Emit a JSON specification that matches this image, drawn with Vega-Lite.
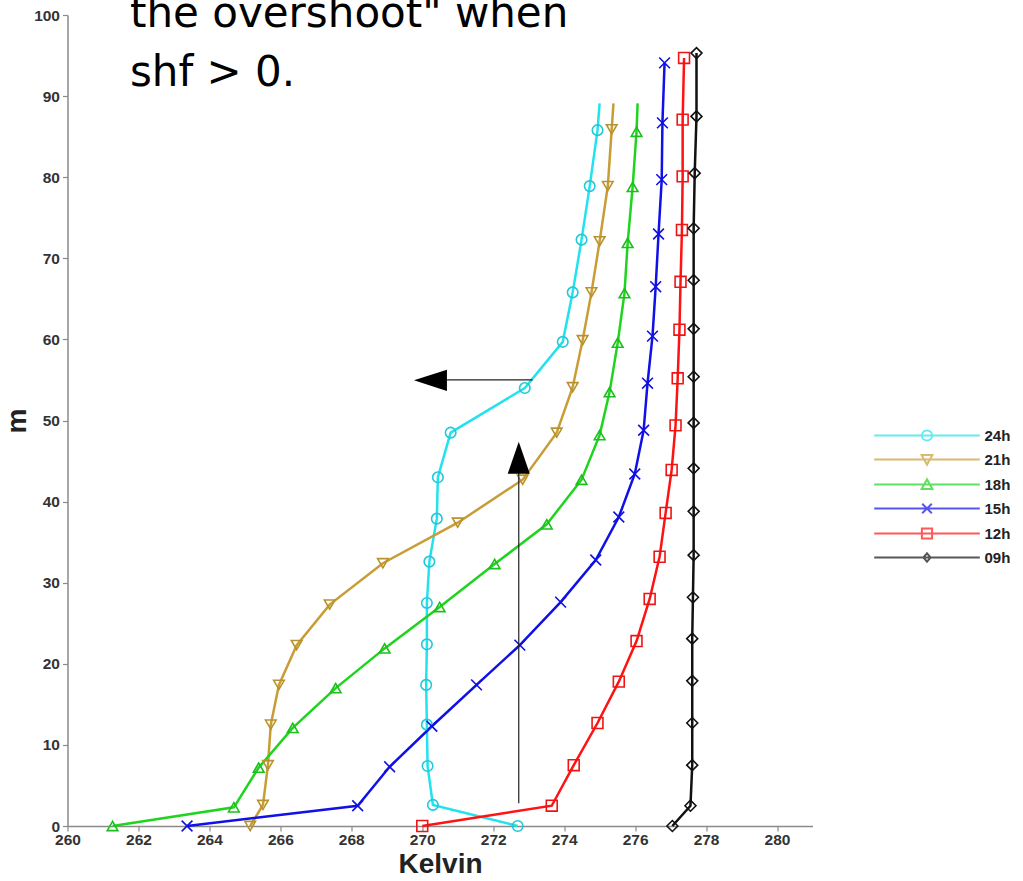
{
  "$schema": "https://vega.github.io/schema/vega-lite/v6.json",
  "width": 745,
  "height": 811,
  "autosize": {"type": "none"},
  "padding": {"left": 67.5, "top": 15, "right": 210.5, "bottom": 55},
  "background": "white",
  "config": {
    "view": {"stroke": null},
    "axis": {
      "domainColor": "#8a8a8a",
      "domainWidth": 1.5,
      "tickColor": "#8a8a8a",
      "tickWidth": 1.2,
      "tickSize": 5,
      "grid": false,
      "labelFont": "Liberation Sans",
      "labelFontWeight": "bold",
      "labelFontSize": 15.5,
      "labelColor": "#333333",
      "labelFlush": false,
      "labelOverlap": false,
      "titleFont": "Liberation Sans",
      "titleFontWeight": "bold",
      "titleFontSize": 28,
      "titleColor": "#222222"
    }
  },
  "datasets": {
    "profiles": [
      {"series": "24h", "K": 272.69, "m": 0},
      {"series": "24h", "K": 270.30, "m": 2.6},
      {"series": "24h", "K": 270.15, "m": 7.4},
      {"series": "24h", "K": 270.13, "m": 12.5},
      {"series": "24h", "K": 270.11, "m": 17.4},
      {"series": "24h", "K": 270.13, "m": 22.4},
      {"series": "24h", "K": 270.13, "m": 27.5},
      {"series": "24h", "K": 270.20, "m": 32.6},
      {"series": "24h", "K": 270.41, "m": 37.9},
      {"series": "24h", "K": 270.44, "m": 43.0},
      {"series": "24h", "K": 270.80, "m": 48.5},
      {"series": "24h", "K": 272.89, "m": 54.0},
      {"series": "24h", "K": 273.96, "m": 59.7},
      {"series": "24h", "K": 274.24, "m": 65.8},
      {"series": "24h", "K": 274.49, "m": 72.3},
      {"series": "24h", "K": 274.72, "m": 78.9},
      {"series": "24h", "K": 274.94, "m": 85.8},
      {"series": "24h", "K": 275.00, "m": 89.1},
      {"series": "21h", "K": 265.15, "m": 0},
      {"series": "21h", "K": 265.51, "m": 2.6},
      {"series": "21h", "K": 265.65, "m": 7.5},
      {"series": "21h", "K": 265.73, "m": 12.5},
      {"series": "21h", "K": 265.96, "m": 17.4},
      {"series": "21h", "K": 266.46, "m": 22.3},
      {"series": "21h", "K": 267.39, "m": 27.3},
      {"series": "21h", "K": 268.89, "m": 32.4},
      {"series": "21h", "K": 271.00, "m": 37.4},
      {"series": "21h", "K": 272.83, "m": 42.7},
      {"series": "21h", "K": 273.79, "m": 48.5},
      {"series": "21h", "K": 274.24, "m": 54.1},
      {"series": "21h", "K": 274.52, "m": 59.9},
      {"series": "21h", "K": 274.77, "m": 65.8},
      {"series": "21h", "K": 275.00, "m": 72.1},
      {"series": "21h", "K": 275.23, "m": 78.9},
      {"series": "21h", "K": 275.34, "m": 85.9},
      {"series": "21h", "K": 275.39, "m": 89.1},
      {"series": "18h", "K": 261.27, "m": 0},
      {"series": "18h", "K": 264.69, "m": 2.3},
      {"series": "18h", "K": 265.39, "m": 7.2},
      {"series": "18h", "K": 266.35, "m": 12.1},
      {"series": "18h", "K": 267.56, "m": 17.0},
      {"series": "18h", "K": 268.94, "m": 21.9},
      {"series": "18h", "K": 270.49, "m": 27.0},
      {"series": "18h", "K": 272.04, "m": 32.3},
      {"series": "18h", "K": 273.51, "m": 37.2},
      {"series": "18h", "K": 274.49, "m": 42.7},
      {"series": "18h", "K": 275.00, "m": 48.2},
      {"series": "18h", "K": 275.28, "m": 53.5},
      {"series": "18h", "K": 275.51, "m": 59.6},
      {"series": "18h", "K": 275.70, "m": 65.7},
      {"series": "18h", "K": 275.79, "m": 71.9},
      {"series": "18h", "K": 275.93, "m": 78.8},
      {"series": "18h", "K": 276.04, "m": 85.6},
      {"series": "18h", "K": 276.07, "m": 89.1},
      {"series": "15h", "K": 263.37, "m": 0},
      {"series": "15h", "K": 268.18, "m": 2.5},
      {"series": "15h", "K": 269.08, "m": 7.3},
      {"series": "15h", "K": 270.27, "m": 12.3},
      {"series": "15h", "K": 271.53, "m": 17.4},
      {"series": "15h", "K": 272.75, "m": 22.3},
      {"series": "15h", "K": 273.90, "m": 27.6},
      {"series": "15h", "K": 274.89, "m": 32.8},
      {"series": "15h", "K": 275.54, "m": 38.1},
      {"series": "15h", "K": 275.99, "m": 43.4},
      {"series": "15h", "K": 276.24, "m": 48.8},
      {"series": "15h", "K": 276.35, "m": 54.6},
      {"series": "15h", "K": 276.49, "m": 60.4},
      {"series": "15h", "K": 276.58, "m": 66.5},
      {"series": "15h", "K": 276.66, "m": 73.0},
      {"series": "15h", "K": 276.75, "m": 79.7},
      {"series": "15h", "K": 276.77, "m": 86.7},
      {"series": "15h", "K": 276.83, "m": 94.1},
      {"series": "12h", "K": 270.00, "m": 0},
      {"series": "12h", "K": 273.65, "m": 2.5},
      {"series": "12h", "K": 274.27, "m": 7.5},
      {"series": "12h", "K": 274.94, "m": 12.7},
      {"series": "12h", "K": 275.54, "m": 17.8},
      {"series": "12h", "K": 276.04, "m": 22.8},
      {"series": "12h", "K": 276.41, "m": 28.0},
      {"series": "12h", "K": 276.69, "m": 33.2},
      {"series": "12h", "K": 276.86, "m": 38.6},
      {"series": "12h", "K": 277.03, "m": 43.9},
      {"series": "12h", "K": 277.14, "m": 49.4},
      {"series": "12h", "K": 277.20, "m": 55.2},
      {"series": "12h", "K": 277.25, "m": 61.2},
      {"series": "12h", "K": 277.28, "m": 67.1},
      {"series": "12h", "K": 277.32, "m": 73.5},
      {"series": "12h", "K": 277.34, "m": 80.1},
      {"series": "12h", "K": 277.34, "m": 87.1},
      {"series": "12h", "K": 277.38, "m": 94.7},
      {"series": "09h", "K": 277.05, "m": 0},
      {"series": "09h", "K": 277.56, "m": 2.5},
      {"series": "09h", "K": 277.61, "m": 7.5},
      {"series": "09h", "K": 277.61, "m": 12.7},
      {"series": "09h", "K": 277.61, "m": 17.9},
      {"series": "09h", "K": 277.61, "m": 23.1},
      {"series": "09h", "K": 277.63, "m": 28.2},
      {"series": "09h", "K": 277.65, "m": 33.4},
      {"series": "09h", "K": 277.65, "m": 38.8},
      {"series": "09h", "K": 277.65, "m": 44.1},
      {"series": "09h", "K": 277.65, "m": 49.7},
      {"series": "09h", "K": 277.65, "m": 55.4},
      {"series": "09h", "K": 277.65, "m": 61.3},
      {"series": "09h", "K": 277.65, "m": 67.3},
      {"series": "09h", "K": 277.65, "m": 73.7},
      {"series": "09h", "K": 277.68, "m": 80.5},
      {"series": "09h", "K": 277.73, "m": 87.5},
      {"series": "09h", "K": 277.73, "m": 95.3}
    ],
    "shafts": [
      {"K": 273.11, "m": 55.0, "K2": 270.7, "m2": 55.0},
      {"K": 272.72, "m": 2.8, "K2": 272.72, "m2": 45.0}
    ],
    "heads": [
      {"dir": "left", "K": 270.23, "m": 54.95},
      {"dir": "up", "K": 272.72, "m": 45.4}
    ],
    "notes": [
      {"K": 261.76, "m": 98.5, "label": "the overshoot\" when"},
      {"K": 261.76, "m": 91.2, "label": "shf > 0."}
    ]
  },
  "encoding": {
    "x": {
      "field": "K",
      "type": "quantitative",
      "scale": {"domain": [260, 281], "nice": false, "zero": false},
      "axis": {
        "title": "Kelvin",
        "values": [260, 262, 264, 266, 268, 270, 272, 274, 276, 278, 280],
        "labelPadding": 1,
        "titlePadding": 3
      }
    },
    "y": {
      "field": "m",
      "type": "quantitative",
      "scale": {"domain": [0, 100], "nice": false, "zero": false},
      "axis": {
        "title": "m",
        "values": [0, 10, 20, 30, 40, 50, 60, 70, 80, 90, 100],
        "labelPadding": 3,
        "titlePadding": 2
      }
    }
  },
  "resolve": {"scale": {"color": "independent", "shape": "independent", "size": "independent"}},
  "layer": [
    {
      "data": {"name": "profiles"},
      "mark": {"type": "line", "strokeWidth": 2.5},
      "encoding": {
        "color": {
          "field": "series",
          "type": "nominal",
          "scale": {
            "domain": ["24h", "21h", "18h", "15h", "12h", "09h"],
            "range": ["#22e2ee", "#c89d36", "#1ed41e", "#1010e8", "#ff1212", "#111111"]
          },
          "legend": null
        },
        "order": {"field": "m", "type": "quantitative"}
      }
    },
    {
      "data": {"name": "profiles"},
      "transform": [{"filter": "datum.m < 88.5 || datum.m > 90"}],
      "mark": {"type": "point", "filled": false, "strokeWidth": 1.6, "opacity": 1},
      "encoding": {
        "color": {
          "field": "series",
          "type": "nominal",
          "scale": {
            "domain": ["24h", "21h", "18h", "15h", "12h", "09h"],
            "range": ["#22c8d8", "#b8922e", "#1cbf1c", "#1010e0", "#ee1414", "#111111"]
          },
          "legend": null
        },
        "shape": {
          "field": "series",
          "type": "nominal",
          "scale": {
            "domain": ["24h", "21h", "18h", "15h", "12h", "09h"],
            "range": ["circle", "triangle-down", "triangle-up", "M-1,-1L1,1M-1,1L1,-1", "square", "diamond"]
          },
          "legend": null
        },
        "size": {
          "field": "series",
          "type": "nominal",
          "scale": {
            "domain": ["24h", "21h", "18h", "15h", "12h", "09h"],
            "range": [110, 120, 120, 140, 120, 75]
          },
          "legend": null
        }
      }
    },
    {
      "data": {"name": "profiles"},
      "transform": [{"filter": "false"}],
      "mark": {"type": "point", "filled": false, "size": 144, "strokeWidth": 2},
      "encoding": {
        "color": {
          "field": "series",
          "type": "nominal",
          "scale": {
            "domain": ["24h", "21h", "18h", "15h", "12h", "09h"],
            "range": ["#22e2ee", "#c89d36", "#1ed41e", "#1010e8", "#ff1212", "#111111"]
          },
          "legend": {
            "title": null,
            "orient": "none",
            "legendX": 852,
            "legendY": 413,
            "padding": 0,
            "symbolSize": 144,
            "symbolStrokeWidth": 2,
            "labelFont": "Liberation Sans",
            "labelFontWeight": "bold",
            "labelFontSize": 15,
            "labelColor": "#222222",
            "labelOffset": 50,
            "rowPadding": 6
          }
        },
        "shape": {
          "field": "series",
          "type": "nominal",
          "scale": {
            "domain": ["24h", "21h", "18h", "15h", "12h", "09h"],
            "range": [
              "M-8.8,0H8.8M0.85,0A0.85,0.85 0 1 1 -0.85,0A0.85,0.85 0 1 1 0.85,0",
              "M-8.8,0H8.8M-0.9,-0.75L0.9,-0.75L0,0.85Z",
              "M-8.8,0H8.8M-0.9,0.75L0.9,0.75L0,-0.85Z",
              "M-8.8,0H8.8M-0.8,-0.8L0.8,0.8M-0.8,0.8L0.8,-0.8",
              "M-8.8,0H8.8M-0.85,-0.85H0.85V0.85H-0.85Z",
              "M-8.8,0H8.8M-0.6,0L0,-0.7L0.6,0L0,0.7Z"
            ]
          },
          "legend": {
            "title": null,
            "orient": "none",
            "legendX": 852,
            "legendY": 413,
            "padding": 0,
            "symbolSize": 144,
            "symbolStrokeWidth": 2,
            "labelFont": "Liberation Sans",
            "labelFontWeight": "bold",
            "labelFontSize": 15,
            "labelColor": "#222222",
            "labelOffset": 50,
            "rowPadding": 6
          }
        }
      }
    },
    {
      "data": {"name": "shafts"},
      "mark": {"type": "rule", "color": "#222222", "strokeWidth": 1.2},
      "encoding": {
        "x2": {"field": "K2"},
        "y2": {"field": "m2"}
      }
    },
    {
      "data": {"name": "heads"},
      "transform": [{"filter": "datum.dir === 'left'"}],
      "mark": {"type": "point", "shape": "M-1,0L1,-0.64L1,0.64Z", "size": 1089, "filled": true, "color": "#000000", "opacity": 1, "strokeWidth": 0}
    },
    {
      "data": {"name": "heads"},
      "transform": [{"filter": "datum.dir === 'up'"}],
      "mark": {"type": "point", "shape": "M0,-1L0.69,1L-0.69,1Z", "size": 1024, "filled": true, "color": "#000000", "opacity": 1, "strokeWidth": 0}
    },
    {
      "data": {"name": "notes"},
      "mark": {"type": "text", "align": "left", "baseline": "alphabetic", "font": "DejaVu Sans", "fontSize": 42, "color": "#000000"},
      "encoding": {"text": {"field": "label", "type": "nominal"}}
    }
  ]
}
